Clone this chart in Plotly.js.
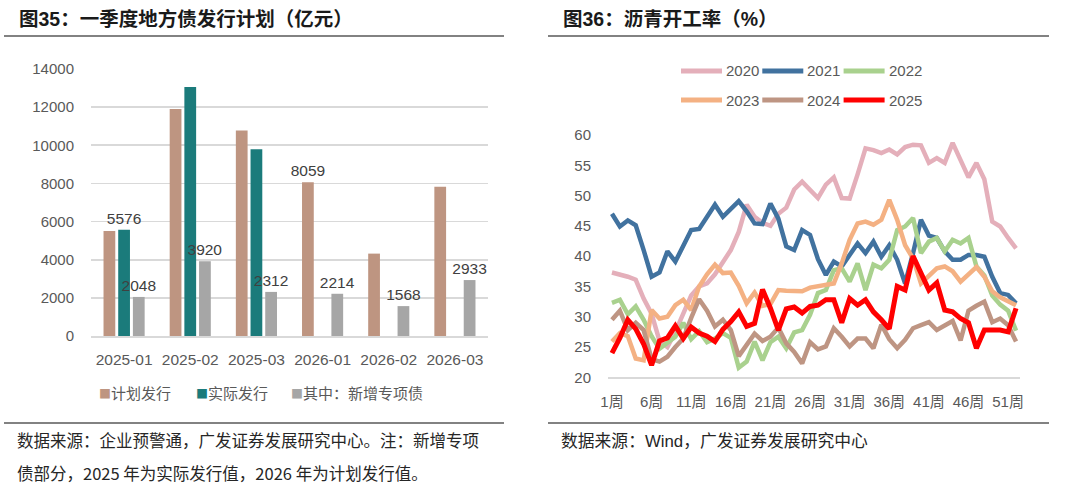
<!DOCTYPE html>
<html>
<head>
<meta charset="utf-8">
<script src="https://cdn.plot.ly/plotly-3.0.1.min.js"></script>
<style>
  html, body { margin: 0; padding: 0; background: #fff; }
  #chart { width: 1080px; height: 492px; }
</style>
</head>
<body>
<div id="chart"></div>
<script>
// ---- Left panel: quarterly local government bond issuance (100 million yuan)
const months = ['2025-01', '2025-02', '2025-03', '2026-01', '2026-02', '2026-03'];
const planned = [5510, 11900, 10770, 8059, 4320, 7830];
const actual = [5576, 13050, 9790, null, null, null];
const special = [2048, 3920, 2312, 2214, 1568, 2933];
// which bars carry a value label
const plannedLabeled = [false, false, false, true, false, false];
const actualLabeled = [true, false, false, false, false, false];
const specialLabeled = [true, true, true, true, true, true];
const barNames = ['计划发行', '实际发行', '其中：新增专项债'];
const barColors = ['#BE9581', '#1B7B7B', '#A6A6A6'];

// ---- Right panel: asphalt plant operating rate by week (%)
const weeks = Array.from({ length: 52 }, (_, i) => (i + 1) + '周');
const rate2020 = [37.3, 37.0, 36.6, 36.1, 33.0, 30.5, 26.0, 25.0, 27.5, 30.5,
  33.5, 35.0, 35.5, 37.0, 39.0, 41.0, 44.0, 48.5, 46.5, 45.5,
  45.0, 47.0, 48.0, 51.0, 52.3, 51.0, 49.6, 51.8, 53.0, 49.6,
  49.5, 53.5, 57.8, 57.5, 57.0, 57.6, 56.8, 58.0, 58.4, 58.3,
  55.4, 56.2, 55.4, 58.7, 56.0, 53.0, 55.4, 52.7, 45.7, 44.9,
  43.0, 41.3];
const rate2021 = [47.0, 44.9, 45.9, 45.1, 41.0, 36.6, 37.3, 40.8, 39.1, 41.7,
  44.3, 44.5, 46.5, 48.5, 46.5, 47.8, 49.1, 47.4, 45.4, 45.3,
  48.7, 46.2, 41.6, 41.0, 44.3, 43.5, 39.5, 36.9, 39.1, 38.3,
  40.2, 42.1, 40.5, 42.4, 39.9, 41.8, 39.4, 35.5, 40.5, 46.0,
  43.4, 43.0, 40.8, 39.4, 39.4, 40.2, 40.2, 39.9, 36.6, 33.9,
  33.6, 32.2];
const rate2022 = [32.3, 32.8, 30.4, 31.7, 29.5, 26.8, 24.7, 25.6, 26.7, 29.0,
  26.3, 27.6, 25.8, 26.4, 27.3, 26.5, 21.6, 22.6, 25.9, 22.8,
  25.8, 26.7, 24.8, 27.4, 27.8, 30.3, 33.9, 34.4, 37.7, 38.0,
  35.8, 38.8, 34.4, 38.6, 38.0, 39.4, 44.3, 44.9, 46.3, 40.5,
  42.4, 43.0, 40.8, 42.7, 42.1, 43.0, 38.3, 36.8, 33.5, 32.0,
  31.0, 27.7];
const rate2023 = [25.9, 27.3, 26.8, 23.1, 22.8, 31.1, 29.7, 30.0, 31.9, 32.8,
  31.1, 35.0, 37.0, 38.6, 37.2, 37.3, 35.1, 32.2, 34.0, 31.8,
  32.1, 34.4, 34.3, 34.2, 34.2, 34.8, 35.0, 35.3, 35.5, 38.8,
  42.7, 45.4, 45.7, 45.2, 46.0, 49.3, 46.0, 41.8, 39.6, 35.5,
  36.8, 38.0, 38.3, 37.5, 35.8, 36.9, 38.2, 36.6, 34.2, 33.2,
  32.6, 31.9];
const rate2024 = [29.5, 31.0, 27.8, 29.0, 27.8, 23.0, 22.6, 23.4, 25.0, 26.4,
  29.8, 32.9, 31.0, 28.4, 29.5, 27.8, 23.5, 25.3, 27.2, 26.0,
  26.7, 28.2, 25.6, 24.2, 22.3, 25.8, 24.6, 25.1, 28.1, 26.7,
  25.1, 26.4, 26.4, 24.8, 28.7, 26.3, 24.8, 26.2, 28.1, 28.6,
  29.1, 27.8, 28.6, 29.3, 26.1, 31.0, 31.8, 32.5, 29.1, 29.7,
  28.6, 25.9];
const rate2025 = [24.0, 26.5, 29.5, 28.0, 25.5, 22.0, 26.0, 26.5, 28.5, 26.4,
  28.3, 27.3, 26.8, 25.9, 27.9, 29.2, 30.8, 28.4, 28.9, 34.5,
  31.4, 27.8, 31.3, 31.6, 30.6, 31.7, 31.9, 32.8, 32.8, 29.0,
  33.0, 31.9, 32.8, 30.8, 29.5, 28.0, 35.0, 34.4, 40.0, 37.2,
  34.4, 35.6, 31.1, 30.8, 29.7, 29.0, 24.8, 27.8, 27.9, 27.8,
  27.5, 31.4];
const years = ['2020', '2021', '2022', '2023', '2024', '2025'];
const yearSeries = [rate2020, rate2021, rate2022, rate2023, rate2024, rate2025];
const yearColors = ['#E4AFBA', '#41729F', '#A9D18E', '#F4B183', '#BE9583', '#FF0000'];
const yearWidths = [4.5, 4.5, 4.5, 4.5, 4.5, 5];

const W = 1080, H = 492;
const px = v => v / W;            // horizontal pixel -> paper fraction
const py = v => 1 - v / H;        // vertical pixel (from top) -> paper fraction

const FONT = 'Liberation Sans, Arial, Noto Sans CJK SC, sans-serif';
const CJK = 'Noto Sans CJK SC, Liberation Sans, sans-serif';
const GRAY_TXT = '#595959';

function labelsFor(values, mask) {
  return values.map((v, i) => (mask[i] && v != null) ? String(v) : '');
}

const barTraces = [
  [planned, plannedLabeled], [actual, actualLabeled], [special, specialLabeled]
].map(([vals, mask], k) => ({
  type: 'bar',
  x: months,
  y: vals,
  name: barNames[k],
  marker: { color: barColors[k] },
  text: labelsFor(vals, mask),
  textposition: 'outside',
  cliponaxis: false,
  constraintext: 'none',
  textfont: { family: FONT, size: 15.5, color: '#404040' },
  hoverinfo: 'x+y',
  showlegend: false,
  xaxis: 'x', yaxis: 'y'
}));

const lineTraces = years.map((yr, k) => ({
  type: 'scatter',
  mode: 'lines',
  x: weeks,
  y: yearSeries[k],
  name: yr,
  line: { color: yearColors[k], width: yearWidths[k] },
  showlegend: false,
  xaxis: 'x2', yaxis: 'y2'
}));

const annotations = [
  {
    text: '<b>图35：一季度地方债发行计划（亿元）</b>',
    x: px(17), y: py(19), xanchor: 'left', yanchor: 'middle',
    font: { family: FONT, size: 19.5, color: '#1A1A1A' }
  },
  {
    text: '<b>图36：沥青开工率（%）</b>',
    x: px(561), y: py(19), xanchor: 'left', yanchor: 'middle',
    font: { family: FONT, size: 19.5, color: '#1A1A1A' }
  },
  {
    text: '数据来源：企业预警通，广发证券发展研究中心。注：新增专项',
    x: px(15), y: py(440), xanchor: 'left', yanchor: 'middle',
    font: { family: CJK, size: 16.5, color: '#262626' }
  },
  {
    text: '债部分，2025 年为实际发行值，2026 年为计划发行值。',
    x: px(15), y: py(473), xanchor: 'left', yanchor: 'middle',
    font: { family: CJK, size: 16.5, color: '#262626' }
  },
  {
    text: '数据来源：<span style="font-family:Liberation Sans">Wind</span>，广发证券发展研究中心',
    x: px(559), y: py(440), xanchor: 'left', yanchor: 'middle',
    font: { family: CJK, size: 16.8, color: '#262626' }
  }
];

const shapes = [];
const rule = (x0, x1, y) => ({
  type: 'line', xref: 'paper', yref: 'paper',
  x0: px(x0), x1: px(x1), y0: py(y), y1: py(y),
  line: { color: '#595959', width: 1.5 }
});
shapes.push(rule(4, 504, 36), rule(548, 1049, 36), rule(4, 504, 423), rule(548, 1049, 423));

// bar legend: coloured square followed by the series name
const barKeyX = [97, 194, 289];
barNames.forEach((nm, k) => {
  annotations.push({
    text: '<span style="color:' + barColors[k] + ';font-size:12px">■</span>' + nm,
    x: px(barKeyX[k]), y: py(392), xanchor: 'left', yanchor: 'middle',
    font: { family: CJK, size: 15, color: GRAY_TXT }
  });
});

// line legend: two rows of three, a short thick stroke then the year
years.forEach((yr, k) => {
  const col = k % 3, row = Math.floor(k / 3);
  const x0 = 681 + col * 81.3, yy = 71 + row * 29;
  shapes.push({
    type: 'line', xref: 'paper', yref: 'paper',
    x0: px(x0), x1: px(x0 + 41), y0: py(yy), y1: py(yy),
    line: { color: yearColors[k], width: 5 }
  });
  annotations.push({
    text: yr,
    x: px(x0 + 43), y: py(yy), xanchor: 'left', yanchor: 'middle',
    font: { family: FONT, size: 15, color: GRAY_TXT }
  });
});
annotations.forEach(a => { a.xref = 'paper'; a.yref = 'paper'; a.showarrow = false; });

const layout = {
  width: W, height: H,
  margin: { l: 0, r: 0, t: 0, b: 0 },
  paper_bgcolor: '#FFFFFF', plot_bgcolor: '#FFFFFF',
  font: { family: FONT, color: GRAY_TXT },
  showlegend: false,
  barmode: 'group', bargap: 0.334, bargroupgap: 0.2,
  xaxis: {
    domain: [px(91), px(488)], anchor: 'y', type: 'category',
    showline: true, linecolor: '#D9D9D9', linewidth: 2,
    ticks: '', ticklabelstandoff: 8,
    tickfont: { family: FONT, size: 15.5, color: GRAY_TXT },
    showgrid: false, zeroline: false, fixedrange: true
  },
  yaxis: {
    domain: [py(336), py(69)], anchor: 'x',
    range: [0, 14000], dtick: 2000, tick0: 0, tickformat: 'd',
    showgrid: true, gridcolor: '#D9D9D9', gridwidth: 1.6,
    zeroline: false, showline: false, ticks: '', ticklabelstandoff: 16,
    tickfont: { family: FONT, size: 15, color: GRAY_TXT }, fixedrange: true
  },
  xaxis2: {
    domain: [px(608), px(1020)], anchor: 'y2', type: 'category',
    range: [-0.5, 51.5],
    tickvals: weeks.filter((_, i) => i % 5 === 0),
    showline: true, linecolor: '#D9D9D9', linewidth: 2,
    ticks: '', ticklabelstandoff: 10,
    tickfont: { family: FONT, size: 15, color: GRAY_TXT },
    showgrid: false, zeroline: false, fixedrange: true
  },
  yaxis2: {
    domain: [py(377.3), py(135)], anchor: 'x2',
    range: [20, 60], dtick: 5, tick0: 20,
    showgrid: false, zeroline: false, showline: false,
    ticks: '', ticklabelstandoff: 16,
    tickfont: { family: FONT, size: 15, color: GRAY_TXT }, fixedrange: true
  },
  annotations: annotations,
  shapes: shapes
};

Plotly.newPlot('chart', barTraces.concat(lineTraces), layout, { staticPlot: true, displayModeBar: false });
</script>
</body>
</html>
